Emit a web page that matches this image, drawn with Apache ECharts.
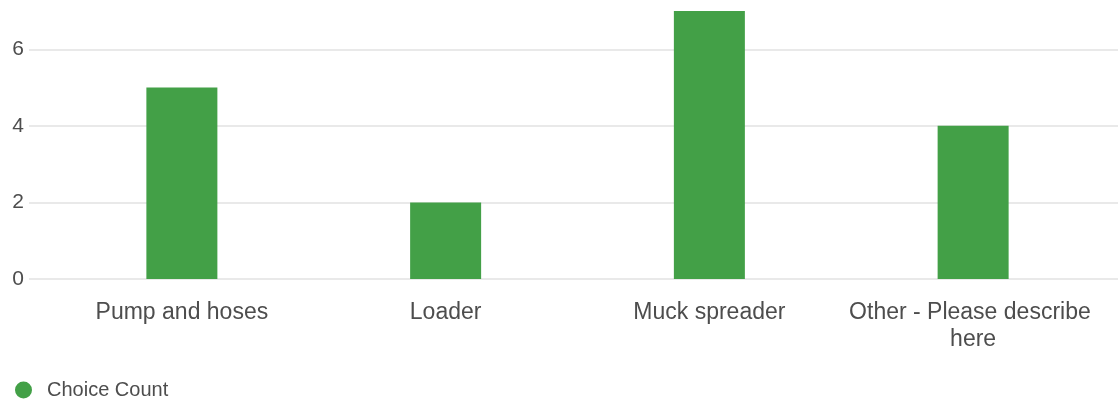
<!DOCTYPE html>
<html>
<head>
<meta charset="utf-8">
<title>Choice Count</title>
<script src="https://cdn.jsdelivr.net/npm/echarts@6/dist/echarts.min.js"></script>
<style>
  html, body { margin: 0; padding: 0; background: #ffffff; }
  #chart { width: 1118px; height: 401px; }
</style>
</head>
<body>
<div id="chart"></div>
<script>
// Answer options and how many respondents picked each one
const categories = ['Pump and hoses', 'Loader', 'Muck spreader', 'Other - Please describe here'];
const choiceCounts = [5, 2, 7, 4];
const seriesName = 'Choice Count';

// Value axis range
const yMin = 0;
const yMax = 7;
const yStep = 2;

const textColor = '#4d4d4d';
const barColor = '#43a047';
const fontFamily = '"Liberation Sans", Arial, Helvetica, sans-serif';

const chart = echarts.init(document.getElementById('chart'), null, { renderer: 'canvas' });

chart.setOption({
  animation: false,
  textStyle: { fontFamily: fontFamily },
  legend: {
    data: [seriesName],
    left: 10,
    top: 375,
    icon: 'circle',
    itemWidth: 17,
    itemHeight: 17,
    textStyle: { color: textColor, fontSize: 20, fontFamily: fontFamily, padding: [0, 0, 0, 10] }
  },
  grid: [
    // wide grid carrying the horizontal gridlines and value labels
    { left: 29, right: 0, top: 11, bottom: 122, containLabel: false },
    // inner grid holding the category bands and bars
    { left: 50, right: 13, top: 11, bottom: 122, containLabel: false }
  ],
  xAxis: [
    { type: 'value', gridIndex: 0, show: false, min: 0, max: 1 },
    {
      type: 'category',
      gridIndex: 1,
      data: categories,
      axisLine: { show: false },
      axisTick: { show: false },
      axisLabel: {
        color: textColor,
        fontSize: 23,
        fontFamily: fontFamily,
        margin: 20,
        lineHeight: 27,
        width: 258,
        overflow: 'break',
        interval: 0
      }
    }
  ],
  yAxis: [
    {
      type: 'value',
      gridIndex: 0,
      min: yMin,
      max: yMax,
      interval: yStep,
      axisLine: { show: false },
      axisTick: { show: false },
      axisLabel: { color: textColor, fontSize: 21, fontFamily: fontFamily, margin: 5, showMaxLabel: false },
      splitLine: { show: true, showMaxLine: false, lineStyle: { color: '#e2e2e2', width: 1.5 } }
    },
    {
      type: 'value',
      gridIndex: 1,
      min: yMin,
      max: yMax,
      interval: yStep,
      show: false,
      splitLine: { show: false }
    }
  ],
  series: [
    {
      name: seriesName,
      type: 'bar',
      xAxisIndex: 1,
      yAxisIndex: 1,
      data: choiceCounts,
      barWidth: 71,
      itemStyle: { color: barColor }
    }
  ]
});
</script>
</body>
</html>
